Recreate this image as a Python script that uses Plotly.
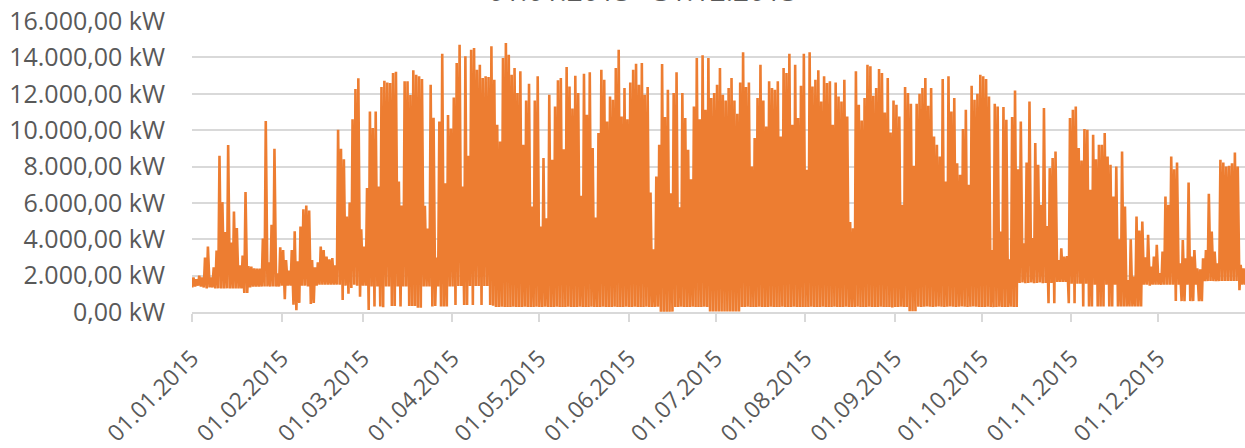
import datetime as dt
import plotly.graph_objects as go

# Daily peak (kW) per month
jan_peak = [1900, 1800, 2000, 1900, 3000, 3600, 1900, 2450, 3380, 8590, 6040, 4400, 9175, 3820, 5520, 4620,
            2570, 3100, 6590, 2530, 2500, 2400, 2390, 2390, 4040, 10500, 2730, 4790, 8970, 2130, 3560]
feb_peak = [3410, 2860, 2280, 3410, 4440, 2790, 4700, 5650, 5850, 5580, 2860, 2460, 2730, 3600, 3410, 3050,
            2900, 2970, 2570, 10020, 8970, 8400, 5250, 6020, 10600, 12260, 12850, 4550]
mar_peak = [3600, 6810, 11030, 10110, 11030, 6900, 12370, 12720, 12620, 12590, 13140, 13210, 7170, 5850,
            12680, 12680, 11930, 13290, 13050, 12960, 12810, 5840, 4590, 12500, 10680, 2990, 10480, 14200,
            7080, 10830, 10090]
apr_peak = [11800, 13690, 14700, 6900, 14060, 8590, 14420, 14510, 13320, 13600, 12860, 12960, 12920, 14610,
            12770, 10290, 9380, 13960, 14790, 14150, 13050, 13410, 12040, 13230, 9190, 11630, 12550, 5800,
            11630, 12960]
may_peak = [4700, 8460, 5160, 11950, 8370, 11300, 12740, 12860, 8950, 13470, 12400, 11190, 12990, 12040,
            6390, 13100, 10850, 13180, 9010, 5190, 9840, 13320, 12770, 10480, 11850, 11670, 13410, 14420,
            10750, 12310, 10600]
jun_peak = [12620, 13320, 13650, 12500, 13690, 11950, 12370, 6570, 3450, 7450, 9190, 13630, 10720, 12220,
            6530, 12040, 13180, 5760, 12040, 10660, 8920, 7300, 11300, 13960, 10600, 14110, 11120, 13960,
            11760, 12040]
jul_peak = [12500, 13410, 11950, 11630, 12310, 12860, 11630, 10900, 12620, 14280, 12370, 12620, 8000, 9560,
            11760, 13600, 11630, 10200, 12680, 12310, 12220, 12680, 9650, 13410, 13140, 14200, 10290, 13600,
            10660, 12440, 14200]
aug_peak = [7820, 14280, 12400, 12770, 13290, 11580, 12960, 12590, 12680, 10290, 12620, 11850, 11580, 12770,
            10750, 4950, 4600, 13230, 11400, 10530, 11760, 13600, 13510, 11890, 12310, 13360, 13140, 10970,
            12860, 9870, 11630]
sep_peak = [11400, 10750, 5890, 12370, 12040, 11450, 8040, 11450, 12000, 12310, 12860, 11340, 12310, 9650,
            9190, 8550, 12810, 7170, 12960, 11030, 11760, 8180, 7540, 10060, 11120, 6990, 12440, 11670,
            12000, 13050]
oct_peak = [12960, 12810, 11850, 3410, 11450, 11300, 4420, 11270, 10570, 2900, 10720, 12180, 7850, 10480,
            3780, 8220, 11580, 4060, 9290, 8090, 5890, 11210, 4730, 7910, 8460, 8830, 2860, 3500, 3050,
            3080, 10660]
nov_peak = [11120, 11300, 9010, 8330, 10060, 10020, 6720, 9740, 8400, 9190, 9190, 9840, 8550, 8090, 6350,
            8000, 4000, 8830, 5800, 1760, 4000, 1950, 5250, 4480, 4970, 3010, 4240, 2500, 3050, 3690]
dec_peak = [2130, 3320, 6350, 5890, 8550, 7850, 8220, 2680, 3960, 2950, 7120, 3050, 3410, 2400, 2350, 2950,
            3410, 6500, 4420, 3320, 2680, 8370, 8220, 8000, 8040, 8180, 8770, 8000, 2590, 2400, 2300]

# Daily base (night) load (kW) per month
jan_base = [1350, 1400, 1450, 1400, 1350, 1300, 1350, 1350, 1300, 1300, 1300, 1300, 1300, 1300, 1300, 1300,
            1300, 1300, 1050, 1050, 1350, 1400, 1400, 1400, 1400, 1400, 1400, 1400, 1400, 1400, 1400]
feb_base = [1450, 700, 1450, 1450, 400, 100, 500, 1450, 1450, 1400, 440, 500, 1450, 1500, 1500, 1500, 1500,
            1500, 1500, 1500, 1500, 660, 1450, 1000, 1320, 1500, 1450, 840]
mar_base = [1450, 1450, 110, 1400, 300, 1400, 300, 260, 1400, 1400, 330, 330, 1400, 300, 1400, 1400, 330,
            330, 330, 240, 240, 1400, 1400, 1400, 300, 330, 1400, 300, 300, 300, 1400]
apr_base = [1400, 380, 1430, 1430, 380, 380, 1430, 380, 1430, 1430, 380, 1430, 1430, 380, 350, 280, 270,
            290, 280, 270, 280, 290, 280, 270, 280, 290, 280, 270, 280, 290]
may_base = [280, 270, 290, 280, 270, 280, 290, 280, 270, 280, 290, 280, 270, 280, 290, 280, 270, 280, 290,
            280, 270, 280, 290, 280, 270, 280, 290, 280, 270, 280, 290]
jun_base = [280, 270, 290, 280, 270, 280, 290, 280, 270, 280, 290, 20, 20, 20, 20, 20, 280, 270, 290, 280,
            270, 280, 290, 280, 270, 280, 290, 280, 30, 30]
jul_base = [30, 30, 30, 30, 30, 30, 30, 30, 30, 280, 270, 290, 280, 270, 280, 290, 280, 270, 280, 290, 280,
            270, 280, 290, 280, 270, 280, 290, 280, 270, 280]
aug_base = [280, 270, 290, 280, 270, 280, 290, 280, 270, 280, 290, 280, 270, 280, 290, 280, 270, 280, 290,
            280, 270, 280, 290, 280, 270, 280, 290, 280, 270, 280, 250]
sep_base = [280, 270, 290, 280, 270, 40, 40, 40, 290, 280, 290, 300, 290, 280, 290, 300, 290, 280, 290, 300,
            290, 280, 290, 300, 290, 280, 290, 300, 290, 280]
oct_base = [280, 270, 290, 280, 270, 280, 290, 280, 270, 280, 290, 280, 270, 1600, 1620, 1580, 1600, 1620,
            1580, 1600, 1620, 1580, 1600, 480, 1600, 480, 1650, 1650, 1650, 1650, 480]
nov_base = [1550, 480, 1550, 1550, 300, 1550, 300, 300, 1500, 300, 300, 300, 1500, 300, 300, 1500, 300, 300,
            300, 300, 300, 300, 300, 300, 300, 1500, 1500, 1450, 1500, 1500]
dec_base = [1500, 1500, 1500, 1500, 1500, 1500, 600, 1500, 600, 600, 1500, 600, 600, 1500, 600, 600, 1700,
            1700, 1700, 1700, 1700, 1700, 1700, 1700, 1700, 1700, 1700, 1700, 1200, 1500, 1500]

tick_dates = ["2015-01-01", "2015-02-01", "2015-03-01", "2015-04-01", "2015-05-01", "2015-06-01",
              "2015-07-01", "2015-08-01", "2015-09-01", "2015-10-01", "2015-11-01", "2015-12-01"]
tick_labels = ["01.01.2015", "01.02.2015", "01.03.2015", "01.04.2015", "01.05.2015", "01.06.2015",
               "01.07.2015", "01.08.2015", "01.09.2015", "01.10.2015", "01.11.2015", "01.12.2015"]
title_text = "01.01.2015 - 31.12.2015"

peaks = (jan_peak + feb_peak + mar_peak + apr_peak + may_peak + jun_peak + jul_peak + aug_peak
         + sep_peak + oct_peak + nov_peak + dec_peak)
bases = (jan_base + feb_base + mar_base + apr_base + may_base + jun_base + jul_base + aug_base
         + sep_base + oct_base + nov_base + dec_base)

start = dt.datetime(2015, 1, 1)
xs, ys = [], []
for i, (b, p) in enumerate(zip(bases, peaks)):
    day = start + dt.timedelta(days=i)
    xs.append(day + dt.timedelta(hours=2))
    ys.append(b)
    xs.append(day + dt.timedelta(hours=12))
    ys.append(p)

FONT = "Open Sans"
GREY = "#595959"
GRID = "#d9d9d9"

fig = go.Figure()
fig.add_trace(go.Scatter(x=xs, y=ys, mode="lines",
                         line=dict(color="#ED7D31", width=2.6), hoverinfo="skip"))

fig.update_layout(
    width=1245, height=448,
    margin=dict(l=192, r=0, t=21, b=136, autoexpand=False),
    paper_bgcolor="white", plot_bgcolor="white",
    showlegend=False,
    separators=",.",
    font=dict(family=FONT, color=GREY, size=25),
    annotations=[dict(text=title_text, xref="paper", yref="paper", x=0.428, y=1.108,
                      xanchor="center", yanchor="middle", showarrow=False,
                      font=dict(family=FONT, size=28, color=GREY))],
)
fig.update_xaxes(
    type="date", range=["2015-01-01", "2015-12-31"],
    tickvals=tick_dates, ticktext=tick_labels, tickangle=-45,
    showgrid=False, showline=True, linecolor=GRID, linewidth=1.5,
    ticks="outside", ticklen=8, tickcolor=GRID, tickwidth=1.5, automargin=False,
    ticklabelstandoff=14,
    tickfont=dict(family=FONT, size=23, color=GREY), zeroline=False,
)
fig.update_yaxes(
    range=[0, 16000], dtick=2000, tickformat=",.2f", ticksuffix=" kW",
    showgrid=True, gridcolor=GRID, gridwidth=1.5, zeroline=False, showline=False,
    ticks="", ticklabelstandoff=26, automargin=False,
    tickfont=dict(family=FONT, size=25, color=GREY),
)

fig.write_html("out.html", config={"displayModeBar": False},
               post_script="document.body.style.margin='0';document.body.style.overflow='hidden';")
